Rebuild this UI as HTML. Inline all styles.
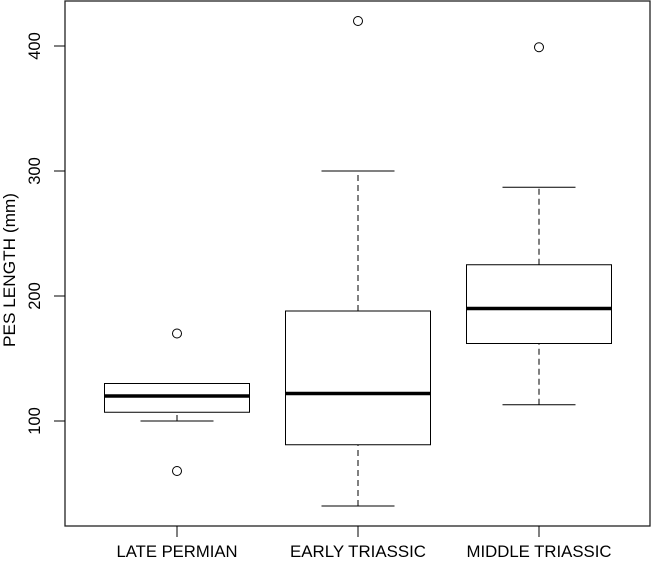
<!DOCTYPE html>
<html><head><meta charset="utf-8"><style>
body{margin:0;background:#fff}
svg{display:block;font-family:"Liberation Sans",Arial,sans-serif}
</style></head><body>
<svg id="chart" width="652" height="563"></svg>
<script>
const categories=["LATE PERMIAN","EARLY TRIASSIC","MIDDLE TRIASSIC"];
const whiskerLow=[100,32,113];
const q1=[107,81,162];
const medians=[120,122,190];
const q3=[130,188,225];
const whiskerHigh=[130,300,287];
const outliers=[[170,60],[420],[399]];
const yTicks=[100,200,300,400];

const svg=document.getElementById('chart');
const NS='http://www.w3.org/2000/svg';
const L=65,R=650,T=1,B=526;
const y=v=>546-v*1.25;
const xc=i=>177+i*181;
const labelW=[121,136,145];
function mk(tag,attrs,parent){const e=document.createElementNS(NS,tag);for(const k in attrs)e.setAttribute(k,attrs[k]);(parent||svg).appendChild(e);return e;}

const frame=mk('rect',{x:L,y:T,width:R-L,height:B-T,fill:'none',stroke:'#222','stroke-width':1.3});



const yAxis=mk('g',{});


yTicks.forEach(t=>{
  mk('line',{x1:L-11,x2:L,y1:y(t),y2:y(t),stroke:'#000'},yAxis);
  const tx=mk('text',{x:40,y:y(t),'font-size':16.5,'text-anchor':'middle',transform:`rotate(-90 40 ${y(t)})`},yAxis);
  tx.textContent=t;
  
  
});
const yt=mk('text',{x:15,y:270,'font-size':16.5,'text-anchor':'middle',textLength:154,lengthAdjust:'spacingAndGlyphs',transform:'rotate(-90 15 270)'});
yt.textContent='PES LENGTH (mm)';



const xAxis=mk('g',{});


categories.forEach((c,i)=>{
  mk('line',{x1:xc(i),x2:xc(i),y1:B,y2:B+11,stroke:'#000'},xAxis);
  const tx=mk('text',{x:xc(i),y:557,'font-size':16.5,'text-anchor':'middle',textLength:labelW[i],lengthAdjust:'spacingAndGlyphs'},xAxis);
  tx.textContent=c;
  
  
});

const hw=72.5,cw=36.5;
categories.forEach((c,i)=>{
  const g=mk('g',{});
  
  
  const x=xc(i);
  mk('line',{x1:x,x2:x,y1:y(whiskerLow[i]),y2:y(q1[i]),stroke:'#000','stroke-dasharray':'6,4'},g);
  mk('line',{x1:x,x2:x,y1:y(q3[i]),y2:y(whiskerHigh[i]),stroke:'#000','stroke-dasharray':'6,4'},g);
  mk('line',{x1:x-cw,x2:x+cw,y1:y(whiskerLow[i]),y2:y(whiskerLow[i]),stroke:'#000'},g);
  mk('line',{x1:x-cw,x2:x+cw,y1:y(whiskerHigh[i]),y2:y(whiskerHigh[i]),stroke:'#000'},g);
  mk('rect',{x:x-hw,y:y(q3[i]),width:2*hw,height:y(q1[i])-y(q3[i]),fill:'#fff',stroke:'#000'},g);
  mk('line',{x1:x-hw,x2:x+hw,y1:y(medians[i]),y2:y(medians[i]),stroke:'#000','stroke-width':3.5},g);
  outliers[i].forEach(o=>{
    const p=mk('circle',{cx:x,cy:y(o),r:4.5,fill:'none',stroke:'#000'},g);
    
    
  });
});
</script>
</body></html>
